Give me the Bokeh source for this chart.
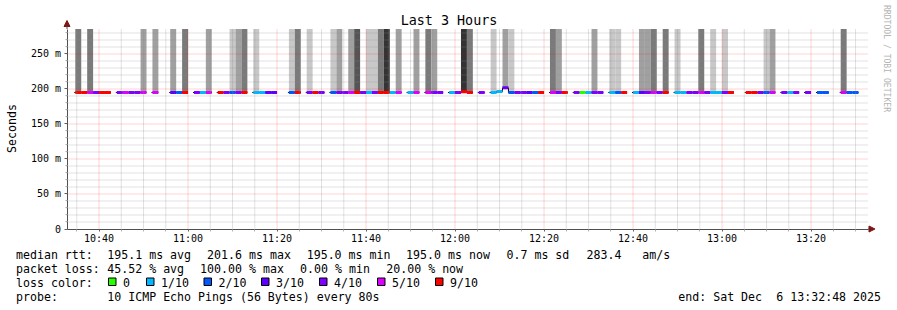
import math
import pandas as pd
from bokeh.plotting import figure
from bokeh.models import (Range1d, FixedTicker, DatetimeTickFormatter, Label, LinearAxis,
                          DatetimeAxis, BoxAnnotation, Arrow, NormalHead)
from bokeh.embed import file_html
from bokeh.resources import INLINE

# ---------------- data ----------------
DAY = "2025-12-06"
range_start = "10:32:48"
range_end = "13:32:48"
first_step = "10:34:40"
step_seconds = 80

# lost pings (out of 10) per 80 s step; None = all lost (no median)
loss = [9, 9, 5, 4, 9, 9, None, 4, 5, 4, 4, 5, None, 5, None, None, 3, 2, 9, None,
        4, 1, 5, None, 9, 4, 2, 4, 9, None, 1, 1, 3, 3, None, None, 2, 9, None, 4,
        9, 4, None, 2, 4, 4, 5, 9, 4, 1, 4, 9, 9, 1, 5, None, 1, 5, None, 5,
        4, 4, None, 1, 4, 9, 9, None, 4, None, 1, 1, 3, 2, 4, 4, 3, 2, 9, None,
        5, 4, 9, None, 4, 0, 1, 4, 4, None, 1, 2, 9, None, 1, 3, 4, 5, 4, 9,
        None, 1, 1, 4, 4, 5, 4, 1, 1, 4, 9, None, None, 9, 9, 4, 2, 5, None, 4,
        1, 4, None, 4, None, 2, 2, None, None, 5, 2, 2]

# median rtt (ms) per step
median = [195.0, 195.0, 195.0, 195.0, 195.0, 195.0, None, 195.0, 195.0, 195.0,
          195.0, 195.0, None, 195.0, None, None, 195.0, 195.0, 195.0, None,
          195.0, 195.0, 195.0, None, 195.0, 195.0, 195.0, 195.0, 195.0, None,
          195.0, 195.0, 195.0, 195.0, None, None, 195.0, 195.0, None, 195.0,
          195.0, 195.0, None, 195.0, 195.0, 195.0, 195.0, 195.0, 195.0, 195.0,
          195.0, 195.0, 195.0, 195.0, 195.0, None, 195.0, 195.0, None, 195.0,
          195.0, 195.0, None, 195.0, 195.0, 196.0, 195.0, None, 195.0, None,
          195.0, 196.5, 201.6, 195.0, 195.0, 195.0, 195.0, 195.0, 195.0, None,
          195.0, 195.0, 195.0, None, 195.0, 195.0, 195.0, 195.0, 195.0, None,
          195.0, 195.0, 195.0, None, 195.0, 195.0, 195.0, 195.0, 195.0, 195.0,
          None, 195.0, 195.0, 195.0, 195.0, 195.0, 195.0, 195.0, 195.0, 195.0,
          195.0, None, None, 195.0, 195.0, 195.0, 195.0, 195.0, None, 195.0,
          195.0, 195.0, None, 195.0, None, 195.0, 195.0, None, None, 195.0,
          195.0, 195.0]

# smoke density per step (0 = none, 1 light ... 5 darkest)
smoke = [3, 0, 3, 0, 0, 0, 0, 0, 0, 0, 0, 2, 0, 2, 0, 0, 2, 0, 3, 0,
         0, 0, 2, 0, 0, 0, 1, 2, 3, 0, 1, 0, 0, 0, 0, 0, 1, 3, 0, 1,
         0, 0, 0, 1, 2, 0, 2, 4, 0, 1, 1, 3, 5, 0, 2, 0, 0, 2, 0, 3,
         2, 0, 0, 0, 0, 5, 3, 0, 0, 0, 1, 0, 2, 1, 0, 0, 0, 0, 0, 0,
         3, 2, 0, 0, 0, 0, 0, 2, 0, 0, 1, 1, 0, 0, 0, 2, 2, 3, 0, 3,
         0, 1, 0, 0, 0, 3, 0, 1, 0, 1, 0, 0, 0, 0, 0, 0, 1, 2, 0, 0,
         0, 0, 0, 0, 0, 0, 0, 0, 0, 3, 0, 0]

x_tick_labels = ["10:40", "11:00", "11:20", "11:40", "12:00", "12:20", "12:40", "13:00", "13:20"]
y_tick_values = [0, 50, 100, 150, 200, 250]
y_tick_labels = ["0", "50 m", "100 m", "150 m", "200 m", "250 m"]
y_max = 285.7

loss_codes = [0, 1, 2, 3, 4, 5, 9]
loss_labels = ["0", "1/10", "2/10", "3/10", "4/10", "5/10", "9/10"]
loss_colors = ["#26ff00", "#00b8ff", "#0059ff", "#5e00ff", "#7e00ff", "#dd00ff", "#ff0000"]
smoke_colors = ["#c8c8c8", "#a0a0a0", "#7a7a7a", "#555555", "#333333"]

rtt_stats = ["195.1 ms avg", "201.6 ms max", "195.0 ms min", "195.0 ms now", "0.7 ms sd", "283.4", "am/s"]
loss_stats = ["45.52 % avg", "100.00 % max", "0.00 % min", "20.00 % now"]
probe_text = "10 ICMP Echo Pings (56 Bytes) every 80s"
end_text = ["end: Sat Dec", "6 13:32:48 2025"]
title_text = "Last 3 Hours"
y_label = "Seconds"
watermark = "RRDTOOL / TOBI OETIKER"

# ---------------- helpers ----------------
def ts(hms):
    return pd.Timestamp(f"{DAY} {hms}")

def ms(t):
    return t.value / 1e6

t0 = ts(first_step)
n = len(loss)
starts = [ms(t0 + pd.Timedelta(seconds=step_seconds * i)) for i in range(n)]
ends = [s + step_seconds * 1000 for s in starts]
color_of = dict(zip(loss_codes, loss_colors))

W, H = 897, 310
GL, GT, GR, GB = 66.5, 28.5, 867.5, 228.5   # graph area edges in canvas pixels
x0, x1 = ms(ts(range_start)), ms(ts(range_end))
tpp = (x1 - x0) / (GR - GL)          # ms of time per pixel
vpp = y_max / (GB - GT)              # ms of rtt per pixel

p = figure(width=W, height=H, output_backend="svg", toolbar_location=None,
           x_range=Range1d(x0 - GL * tpp, x1 + (W - GR) * tpp),
           y_range=Range1d(-(H - GB) * vpp, y_max + GT * vpp),
           x_axis_location=None, y_axis_location=None,
           min_border_left=0, min_border_right=0, min_border_top=0, min_border_bottom=0)
p.title.visible = False
p.outline_line_color = None
p.background_fill_color = "white"
p.border_fill_color = "white"
p.grid.visible = False

# smoke
idx = [i for i in range(n) if smoke[i] > 0 and median[i] is not None]
p.quad(left=[starts[i] for i in idx], right=[ends[i] for i in idx],
       bottom=[median[i] for i in idx], top=[y_max] * len(idx),
       fill_color=[smoke_colors[smoke[i] - 1] for i in idx], line_color=None)

# thin black median path per run
xs_runs, ys_runs = [], []
i = 0
while i < n:
    if median[i] is None:
        i += 1
        continue
    j = i
    while j + 1 < n and median[j + 1] is not None:
        j += 1
    xs = [starts[i] - tpp]
    ys = [median[i]]
    for k in range(i, j + 1):
        xs += [starts[k], ends[k]]
        ys += [median[k], median[k]]
    xs_runs.append(xs)
    ys_runs.append(ys)
    i = j + 1
p.multi_line(xs_runs, ys_runs, line_color="black", line_width=1)

# coloured median by loss
seg = [i for i in range(n) if median[i] is not None]
p.segment(x0=[starts[i] for i in seg], x1=[ends[i] for i in seg],
          y0=[median[i] for i in seg], y1=[median[i] for i in seg],
          line_color=[color_of[loss[i]] for i in seg], line_width=3, line_cap="butt")

# ticks
maj_x = [ms(ts(t)) for t in x_tick_labels]
minor_x = []
t = ts("10:35:00")
while ms(t) < x1:
    if ms(t) not in maj_x:
        minor_x.append(ms(t))
    t += pd.Timedelta(minutes=5)
minor_y = [v for v in range(10, int(y_max), 10) if v % 50 != 0]

# grid (drawn over the data, limited to the graph area; dash phase on pixel edges)
hx0 = x0 - 0.5 * tpp
vy0 = -0.5 * vpp
p.segment(x0=minor_x, x1=minor_x, y0=[vy0] * len(minor_x), y1=[y_max] * len(minor_x),
          line_color="#8c8c8c", line_alpha=0.5, line_width=1, line_dash="1 1")
p.segment(x0=[hx0] * len(minor_y), x1=[x1] * len(minor_y), y0=minor_y, y1=minor_y,
          line_color="#8c8c8c", line_alpha=0.5, line_width=1, line_dash="1 1")
p.segment(x0=maj_x, x1=maj_x, y0=[vy0] * len(maj_x), y1=[y_max] * len(maj_x),
          line_color="#ff0000", line_alpha=0.35, line_width=1, line_dash="1 1")
p.segment(x0=[hx0] * 5, x1=[x1] * 5, y0=y_tick_values[1:], y1=y_tick_values[1:],
          line_color="#ff0000", line_alpha=0.35, line_width=1, line_dash="1 1")

# axes at fixed positions
fmt = "%H:%M"
xaxis = DatetimeAxis(fixed_location=0, bounds=(x0, x1),
                     ticker=FixedTicker(ticks=maj_x, minor_ticks=minor_x),
                     formatter=DatetimeTickFormatter(seconds=fmt, minsec=fmt, minutes=fmt,
                                                     hourmin=fmt, hours=fmt, days=fmt, context=None))
yaxis = LinearAxis(fixed_location=x0, bounds=(0, y_max),
                   ticker=FixedTicker(ticks=y_tick_values, minor_ticks=minor_y),
                   major_label_overrides=dict(zip(y_tick_values, y_tick_labels)))
for ax in (xaxis, yaxis):
    ax.axis_line_color = "#505050"
    ax.major_label_text_font = "DejaVu Sans Mono"
    ax.major_label_text_font_size = "10px"
    ax.major_label_text_color = "black"
    ax.major_tick_in = 0
    ax.minor_tick_in = 0
    ax.major_tick_line_color = "#606060"
    ax.minor_tick_line_color = "#b0b0b0"
yaxis.major_tick_out = 3
yaxis.minor_tick_out = 2
yaxis.major_label_standoff = 3
xaxis.major_tick_out = 2
xaxis.minor_tick_out = 2
xaxis.major_label_standoff = 2
p.add_layout(xaxis, "below")
p.add_layout(yaxis, "left")

# arrows at the ends of the axes
head_col = "#7f1515"
p.add_layout(Arrow(end=NormalHead(size=6, fill_color=head_col, line_color=head_col),
                   x_start=GL, y_start=H - GT, x_end=GL, y_end=H - 20,
                   start_units="screen", end_units="screen", line_color="#505050", line_width=1))
p.add_layout(Arrow(end=NormalHead(size=6, fill_color=head_col, line_color=head_col),
                   x_start=GR, y_start=H - GB, x_end=874.5, y_end=H - GB,
                   start_units="screen", end_units="screen", line_color="#505050", line_width=1))

# texts
MONO = "DejaVu Sans Mono"
def text(s, cx, cy, size="11.6px", align="left", color="black", angle=0.0):
    p.add_layout(Label(x=cx, y=H - cy, x_units="screen", y_units="screen", text=s,
                       text_font=MONO, text_font_size=size, text_align=align,
                       text_baseline="middle", text_color=color, angle=angle))

text(title_text, 448.5, 20, size="13.4px", align="center")
text(y_label, 11, 128, align="center", angle=math.pi / 2)
text(watermark, 886, 58, size="8.1px", align="center", color="#b4b4b4", angle=-math.pi / 2)

row = [254, 268, 282, 296]
text("median rtt:", 15.5, row[0])
for s, x in zip(rtt_stats, [106.8, 206.6, 306.2, 405.6, 506.0, 586.0, 641.8]):
    text(s, x, row[0])
text("packet loss:", 15.5, row[1])
for s, x in zip(loss_stats, [106.8, 199.6, 299.6, 385.8]):
    text(s, x, row[1])
text("loss color:", 15.5, row[2])
sw_x = [108.0, 146.0, 203.5, 261.0, 319.0, 377.0, 435.0]
for lab, col, x in zip(loss_labels, loss_colors, sw_x):
    p.add_layout(BoxAnnotation(left=x, right=x + 7.5, top=H - 277.5, bottom=H - 285,
                               left_units="screen", right_units="screen",
                               top_units="screen", bottom_units="screen",
                               fill_color=col, fill_alpha=1.0, line_color="black",
                               line_alpha=1.0, line_width=1))
    text(lab, x + 14.5, row[2])
text("probe:", 15.5, row[3])
text(probe_text, 106.8, row[3])
text(end_text[0], 677.8, row[3])
text(end_text[1], 775.8, row[3])

open("out.html", "w").write(file_html(p, INLINE))
